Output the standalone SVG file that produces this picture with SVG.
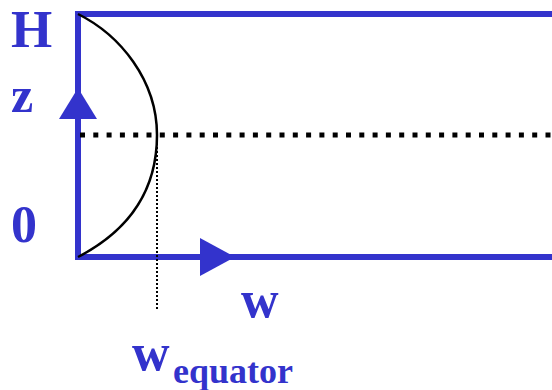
<svg xmlns="http://www.w3.org/2000/svg" width="552" height="390" viewBox="0 0 552 390">
<style>
.ax{stroke:#3333cc;stroke-width:6;fill:none}
.lbl{font-family:"Liberation Serif","Times New Roman",serif;font-weight:bold;fill:#3333cc}
</style>
<rect width="552" height="390" fill="#fff"/>
<g id="axes">
<path class="ax" d="M552,14 H78 V257 H552"/>
<polygon fill="#3333cc" points="78,88 97,119 59,119"/>
<polygon fill="#3333cc" points="235,257 200,238 200,276"/>
</g>
<g id="equator-line">
<line x1="80" y1="135" x2="552" y2="135" stroke="#000" stroke-width="5" stroke-dasharray="5 8.3"/>
<line x1="157" y1="135" x2="157" y2="310" stroke="#000" stroke-width="2" stroke-dasharray="2 2"/>
</g>
<g id="curve">
<path d="M78,14 C120,35 157,80 157,135 C157,190 130,230 78,257" fill="none" stroke="#000" stroke-width="2.5"/>
</g>
<g id="labels">
<text class="lbl" x="11" y="47" font-size="53">H</text>
<text class="lbl" x="11" y="112" font-size="50">z</text>
<text class="lbl" x="11" y="242" font-size="52">0</text>
<text class="lbl" x="241" y="317" font-size="52">w</text>
<text class="lbl" x="132" y="370" font-size="52">w</text>
<text class="lbl" x="173" y="383" font-size="36">equator</text>
</g>
</svg>
